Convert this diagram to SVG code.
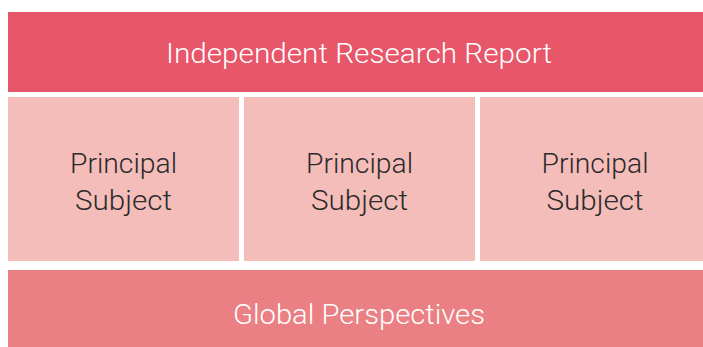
<svg xmlns="http://www.w3.org/2000/svg" width="703" height="347" viewBox="0 0 703 347">
<style>
.t{font-family:Roboto,"Liberation Sans",sans-serif;font-weight:300;text-anchor:middle}
.w{fill:#ffffff}
.d{fill:#2b2b2b}
.sub{fill:#f5bdb9}
</style>
<rect width="703" height="347" fill="#ffffff"/>
<g id="report">
<rect x="8" y="12" width="695" height="80" fill="#e8566a"/>
<text class="t w" x="359" y="63" font-size="27.5" textLength="386" lengthAdjust="spacingAndGlyphs">Independent Research Report</text>
</g>
<g id="subject1">
<rect class="sub" x="8" y="97" width="231" height="164"/>
<text class="t d" x="123.5" y="173" font-size="28.5" textLength="107" lengthAdjust="spacingAndGlyphs">Principal</text>
<text class="t d" x="123.5" y="210" font-size="28.5" textLength="97" lengthAdjust="spacingAndGlyphs">Subject</text>
</g>
<g id="subject2">
<rect class="sub" x="244" y="97" width="231" height="164"/>
<text class="t d" x="359.5" y="173" font-size="28.5" textLength="107" lengthAdjust="spacingAndGlyphs">Principal</text>
<text class="t d" x="359.5" y="210" font-size="28.5" textLength="97" lengthAdjust="spacingAndGlyphs">Subject</text>
</g>
<g id="subject3">
<rect class="sub" x="480" y="97" width="223" height="164"/>
<text class="t d" x="595" y="173" font-size="28.5" textLength="107" lengthAdjust="spacingAndGlyphs">Principal</text>
<text class="t d" x="595" y="210" font-size="28.5" textLength="97" lengthAdjust="spacingAndGlyphs">Subject</text>
</g>
<g id="global">
<rect x="8" y="270" width="695" height="77" fill="#ea8083"/>
<text class="t w" x="359" y="324" font-size="28.5" textLength="252" lengthAdjust="spacingAndGlyphs">Global Perspectives</text>
</g>
<g id="connectors"/>
</svg>
